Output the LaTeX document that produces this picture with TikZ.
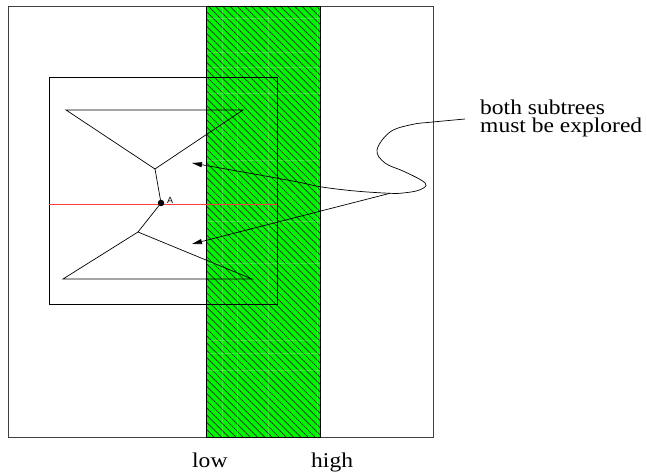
\documentclass[tikz,border=0pt]{standalone}
\usepackage{fontspec}
\setmainfont{Liberation Serif}
\newfontfamily\labelsans{Liberation Sans}
\usetikzlibrary{arrows.meta}
\definecolor{bandgreen}{RGB}{0,245,0}
\definecolor{redline}{RGB}{255,60,60}
\newcommand{\widetext}[1]{\scalebox{1.12}[1]{#1}}
\tikzset{
  frame/.style={draw=black!75, line width=0.8pt},
  inner/.style={draw=black, line width=0.8pt},
  tree/.style={draw=black, line width=0.7pt, line join=miter},
  hatch/.style={draw=black!85, line width=0.7pt},
  pointer/.style={draw=black, line width=0.7pt, -{Triangle[length=10pt,width=5pt]}},
  bigtext/.style={font=\fontsize{21}{18}\selectfont, inner sep=0pt, anchor=base west},
}
\begin{document}
\begin{tikzpicture}[x=1pt,y=-1pt]
\useasboundingbox (0,0) rectangle (647,473);
\fill[white] (0,0) rectangle (647,473);
% outer frame
\draw[frame] (8,6) rectangle (433,437);
% green hatched band
\fill[bandgreen] (206,6) rectangle (320,437);
\begin{scope}
  \clip (206,6) rectangle (320,437);
  \foreach \c in {-440,-432.8,...,330} {
    \draw[hatch] (\c,6) -- (\c+431,437);
  }
  \foreach \v in {222,237,268,317} {
    \draw[white, opacity=0.2, line width=0.4pt] (\v,6) -- (\v,437);
  }
  \foreach \h in {18,52,67,93,160,221,263,340,353,370} {
    \draw[white, opacity=0.2, line width=0.4pt] (206,\h) -- (320,\h);
  }
\end{scope}
\draw[draw=black, line width=0.8pt] (206,6) rectangle (320,437);
% inner query rectangle
\draw[inner] (49,77) rectangle (277,304);
% red splitting line
\draw[redline, line width=0.8pt] (49,204) -- (277,204);
% tree drawing
\coordinate (u1) at (66,110);
\coordinate (u2) at (243,110);
\coordinate (u3) at (155,169);
\coordinate (l1) at (138,232);
\coordinate (l2) at (63,279);
\coordinate (l3) at (252,279);
\node[circle, fill=black, inner sep=0pt, minimum size=6.5pt] (A) at (161,203) {};
\node[font=\labelsans\fontsize{9}{10}\selectfont, anchor=base west, inner sep=0pt] (Alab) at (167,203) {A};
\draw[tree] (u1) -- (u2) -- (u3) -- cycle;
\draw[tree] (u3) -- (A.center);
\draw[tree] (A.center) -- (l1);
\draw[tree] (l1) -- (l2) -- (l3) -- cycle;
% annotation (one two-line text)
\node[bigtext, align=left] (note) at (480,133) {\widetext{both subtrees}\\\widetext{must be explored}};
\coordinate (split) at (390,193.3);
\coordinate (tipU) at (192,163);
\coordinate (tipL) at (192,244);
\draw[pointer] plot[smooth, tension=0.6] coordinates {(465,119) (433,122) (412,124.5) (390,132) (377,150) (385,163) (403,171) (421,180) (426,185.5) (418,190.5) (403,193) (390,193.3) (355,191) (320,186.7) (290,180.5) (192,163)};
\draw[pointer] (split) -- (tipL);
% axis labels
\node[bigtext] (low) at (192,467) {\widetext{low}};
\node[bigtext] (high) at (311,467) {\widetext{high}};
\end{tikzpicture}
\end{document}
